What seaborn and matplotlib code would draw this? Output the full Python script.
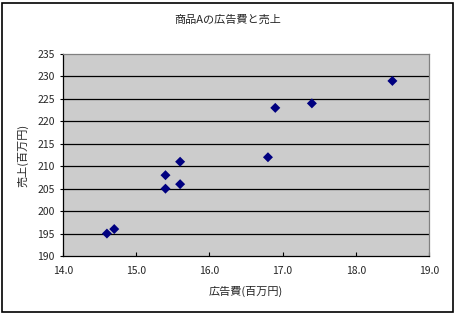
import matplotlib
matplotlib.use("Agg")
import matplotlib.pyplot as plt
import matplotlib.transforms as mtransforms
import seaborn as sns
import pandas as pd
from matplotlib.patches import Rectangle

ad_cost = [14.6, 14.7, 15.4, 15.4, 15.6, 15.6, 16.8, 16.9, 17.4, 18.5]
sales = [195, 196, 208, 205, 211, 206, 212, 223, 224, 229]
title = "商品Aの広告費と売上"
xlabel = "広告費(百万円)"
ylabel = "売上(百万円)"
xticks = [14.0, 15.0, 16.0, 17.0, 18.0, 19.0]
yticks = [190, 195, 200, 205, 210, 215, 220, 225, 230, 235]

sns.set_theme(style="white")
plt.rcParams['font.family'] = ['Noto Sans CJK JP', 'DejaVu Sans']

df = pd.DataFrame({"x": ad_cost, "y": sales})

fig = plt.figure(figsize=(4.55, 3.13), dpi=100)
ax = fig.add_axes([63/455, 57/313, (429-63)/455, (256-54)/313])
ax.set_facecolor("#CCCCCC")

# shadow
sns.scatterplot(data=df, x="x", y="y", ax=ax, marker="D", s=26, color="#A0A0A0",
                edgecolor="none", zorder=3)
shadow = ax.collections[0]
shadow.set_transform(ax.transData + mtransforms.ScaledTranslation(0.5/100, -1.5/100, fig.dpi_scale_trans))
sns.scatterplot(data=df, x="x", y="y", ax=ax, marker="D", s=26, color="#000080",
                edgecolor="none", zorder=4)

ax.set_xlim(14, 19)
ax.set_ylim(190, 235)
ax.set_xticks(xticks)
ax.set_xticklabels([f"{v:.1f}" for v in xticks], fontsize=7.5)
ax.set_yticks(yticks)
ax.set_yticklabels([str(v) for v in yticks], fontsize=7.5)
for y in yticks[1:-1]:
    ax.axhline(y, color="black", lw=0.9, zorder=1)

ax.tick_params(axis="x", direction="in", length=3, width=0.8, color="black", pad=7)
ax.tick_params(axis="y", direction="out", length=2, width=0.8, color="black", pad=4)
ax.tick_params(left=True, bottom=True)
for s in ["left", "bottom"]:
    ax.spines[s].set_color("black")
    ax.spines[s].set_linewidth(0.9)
for s in ["top", "right"]:
    ax.spines[s].set_color("#808080")
    ax.spines[s].set_linewidth(0.9)

ax.set_xlabel(xlabel, fontsize=8, labelpad=7)
ax.set_ylabel(ylabel, fontsize=8, labelpad=6)
fig.text(0.5, 1 - 20/313, title, ha="center", va="center", fontsize=8)

fig.patches.append(Rectangle((1.5/455, 1.5/313), 451/455, 309/313, transform=fig.transFigure,
                             fill=False, edgecolor="black", lw=1.2))

fig.savefig("out.png", dpi=100)
